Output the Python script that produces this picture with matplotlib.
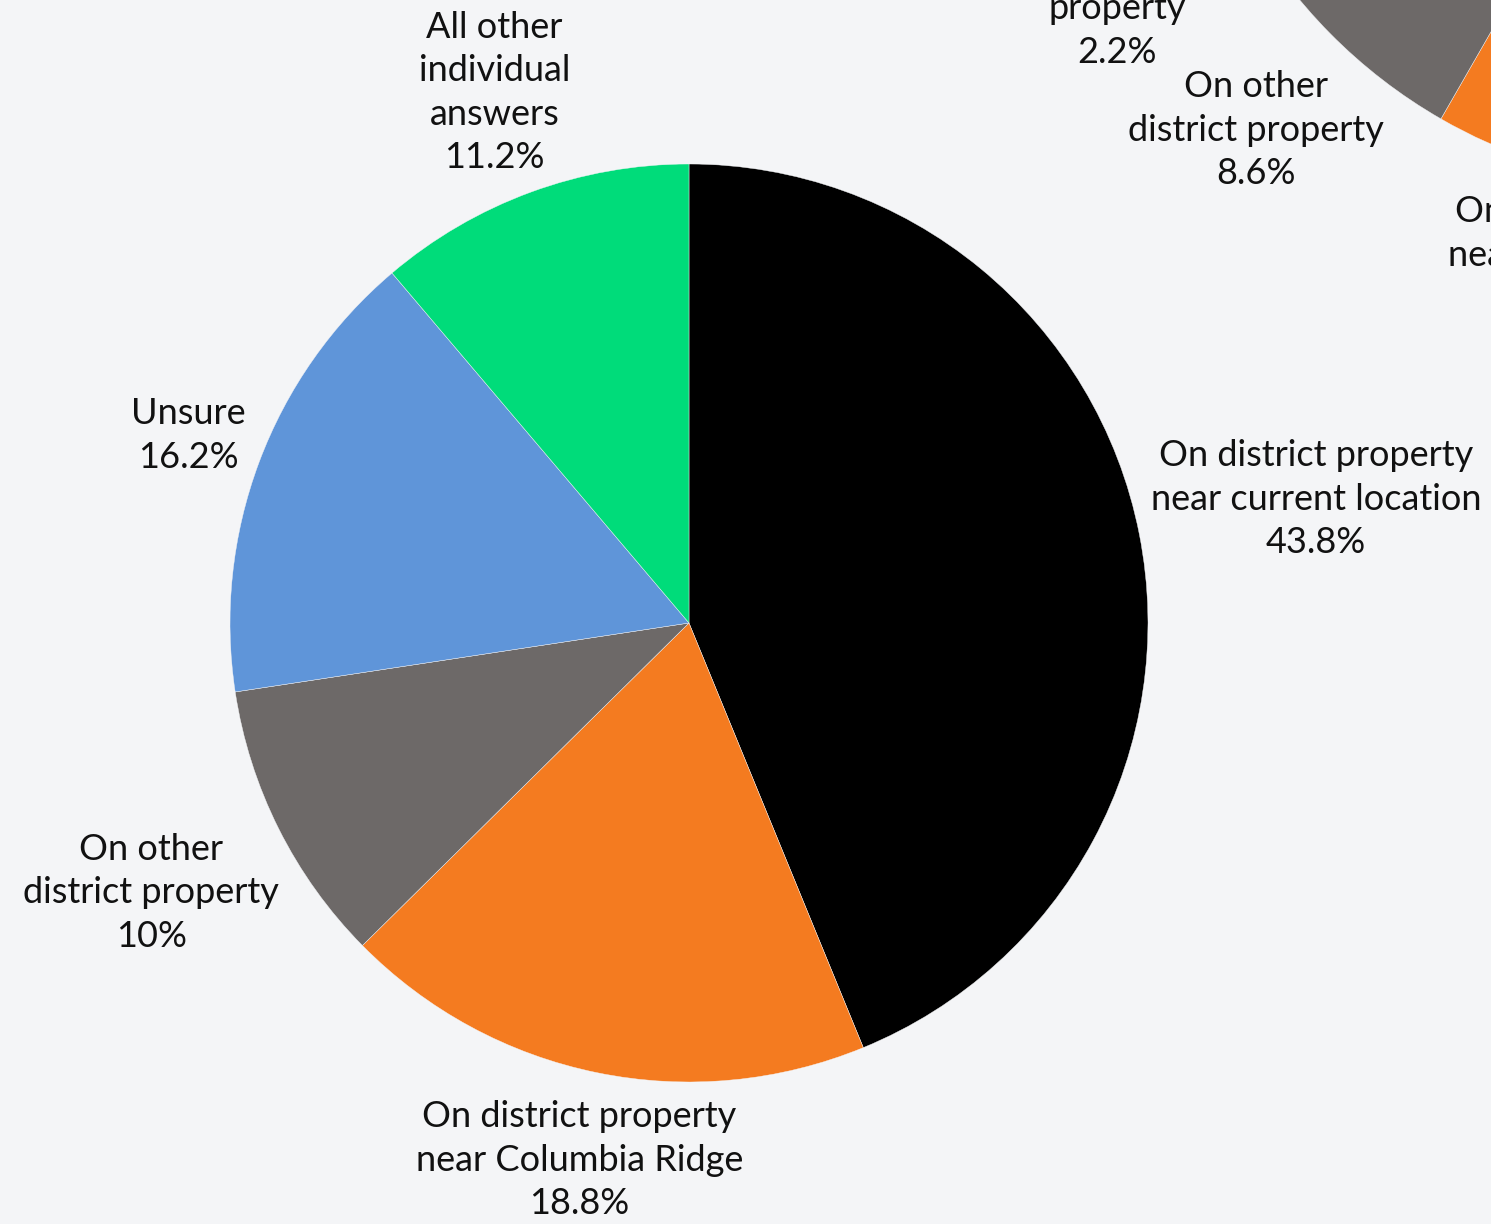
import matplotlib
matplotlib.use("Agg")
import matplotlib.pyplot as plt
import numpy as np

# ---- data ----
main_labels = ["On district property\nnear current location",
               "On district property\nnear Columbia Ridge",
               "On other\ndistrict property",
               "Unsure",
               "All other\nindividual\nanswers"]
main_values = [43.8, 18.8, 10, 16.2, 11.2]
main_pct_text = ["43.8%", "18.8%", "10%", "16.2%", "11.2%"]

second_labels = ["On district property\nnear current location",
                 "On district property\nnear Columbia Ridge",
                 "On other\ndistrict property",
                 "Not on district\nproperty",
                 "Unsure",
                 "All other\nindividual\nanswers"]
second_values = [45.6, 12.7, 8.6, 2.2, 18.1, 12.8]
second_pct_text = ["45.6%", "12.7%", "8.6%", "2.2%", "18.1%", "12.8%"]

# ---- style ----
BG = "#f4f5f7"
main_colors = ["#000000", "#f47b20", "#6d6968", "#5f95d9", "#00dc7a"]
second_colors = ["#000000", "#f47b20", "#6d6968", "#a9a9a9", "#5f95d9", "#00dc7a"]
main_label_dist = [1.392, 1.194, 1.311, 1.164, 1.231]
main_label_dang = [0, 0, 0, 0, 0]
second_label_dist = [1.30, 1.142, 1.233, 1.298, 1.2, 1.2]
second_label_dang = [0, -1.5, 1.5, 5.1, 0, 0]

W, H = 1491, 1224
fig = plt.figure(figsize=(W / 100, H / 100), dpi=100, facecolor=BG)
ax = fig.add_axes([0, 0, 1, 1])
ax.set_facecolor(BG)

FONT = ["Lato", "DejaVu Sans"]
FS = 26


def draw_pie(values, colors, labels, pcts, center, radius, dists, dangs):
    wedges, _ = ax.pie(values, colors=colors, startangle=90, counterclock=False,
                       center=center, radius=radius, frame=True,
                       wedgeprops=dict(edgecolor=BG, linewidth=0.3))
    for w, lab, pct, d, da in zip(wedges, labels, pcts, dists, dangs):
        ang = np.deg2rad((w.theta1 + w.theta2) / 2 + da)
        x = center[0] + d * radius * np.cos(ang)
        y = center[1] + d * radius * np.sin(ang)
        ax.text(x, y, lab + "\n" + pct, ha="center", va="center",
                fontsize=FS, family=FONT, color="#111111",
                linespacing=1.39, clip_on=True)


draw_pie(main_values, main_colors, main_labels, main_pct_text,
         (689, H - 623), 459, main_label_dist, main_label_dang)
draw_pie(second_values, second_colors, second_labels, second_pct_text,
         (1700, H + 332), 520, second_label_dist, second_label_dang)

ax.set_xlim(0, W)
ax.set_ylim(0, H)
ax.set_aspect("equal")
ax.axis("off")

fig.savefig("out.png", dpi=100, facecolor=BG)
